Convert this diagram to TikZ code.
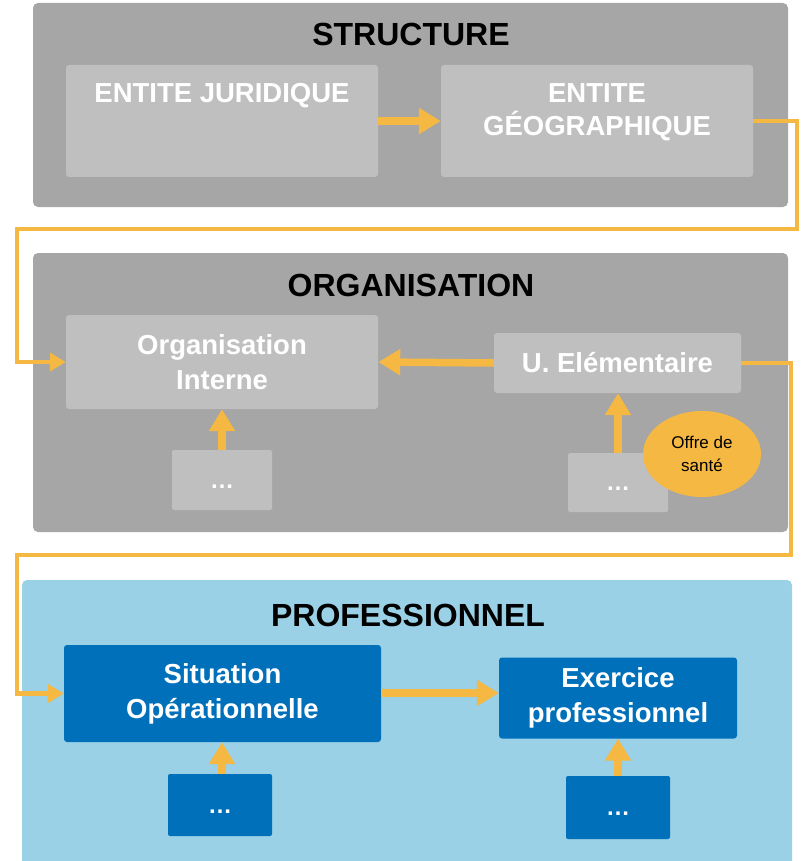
\documentclass[tikz,border=0pt]{standalone}
\usepackage{fontspec}
\setmainfont{Liberation Sans}
\usetikzlibrary{arrows.meta,shapes.geometric}
\definecolor{panelgrey}{HTML}{A6A6A6}
\definecolor{boxgrey}{HTML}{BFBFBF}
\definecolor{ayellow}{HTML}{F4B843}
\definecolor{lightblue}{HTML}{9AD1E6}
\definecolor{darkblue}{HTML}{0070BA}
\begin{document}
\begin{tikzpicture}[x=1pt,y=-1pt,
  panel/.style={fill=panelgrey,rounded corners=5pt},
  graybox/.style={rectangle,fill=boxgrey,rounded corners=3pt,inner sep=0pt,text=white,align=center,
    font=\fontsize{27.5}{35}\selectfont\bfseries},
  bluebox/.style={graybox,fill=darkblue},
  titletext/.style={font=\fontsize{32}{36}\selectfont\bfseries,text=black,inner sep=0pt},
  lbl/.style={text=white,align=center,font=\fontsize{27.5}{33}\selectfont\bfseries,inner sep=0pt},
  dots/.style={font=\fontsize{24}{28}\selectfont\bfseries,align=none,text height=0pt,text depth=0pt},
  fat/.style={draw=ayellow,line width=7.5pt,-{Triangle[width=25pt,length=22pt]}},
  conn/.style={draw=ayellow,line width=4.5pt,-{Triangle[width=18pt,length=16pt]}},
]
\useasboundingbox (0,0) rectangle (800,861);

% panels
\path[panel] (33,3) rectangle (788,207);
\path[panel] (33,253) rectangle (788,532);
\path[panel,fill=lightblue] (22,580) rectangle (792,868);

\node[titletext] (t1) at (411,34) {STRUCTURE};
\node[titletext] (t2) at (411,285) {ORGANISATION};
\node[titletext] (t3) at (408,615) {PROFESSIONNEL};

% STRUCTURE
\node[graybox,minimum width=312pt,minimum height=112pt] (ej) at (222,121) {};
\node[lbl] (ejt) at (222,96) {ENTITE JURIDIQUE};
\node[graybox,minimum width=312pt,minimum height=112pt] (geo) at (597,121) {};
\node[lbl] (geot) at (597,112) {ENTITE\\GÉOGRAPHIQUE};
\draw[fat] (ej.east) -- (geo.west);

% ORGANISATION
\node[graybox,minimum width=312pt,minimum height=94pt] (oi) at (222,362) {Organisation\\Interne};
\node[graybox,minimum width=247pt,minimum height=60pt] (ue) at (617.5,363) {U. Elémentaire};
\node[graybox,minimum width=100pt,minimum height=60pt,rounded corners=2pt,dots] (d1) at (222,480) {\raisebox{-8pt}{…}};
\node[graybox,minimum width=100pt,minimum height=59pt,rounded corners=2pt,dots] (d2) at (618,482.5) {\raisebox{-8pt}{…}};
\draw[fat] (ue.west) -- (oi.east);
\draw[fat] (d1.north) -- (oi.south);
\draw[fat] (d2.north) -- (d2.north |- ue.south);
\node[ellipse,fill=ayellow,minimum width=118pt,minimum height=86pt,inner sep=0pt,align=center,
  font=\fontsize{17}{23}\selectfont] (offre) at (702,454) {Offre de\\santé};

% PROFESSIONNEL
\node[bluebox,minimum width=317pt,minimum height=97pt] (so) at (222.5,693.5) {Situation\\Opérationnelle};
\node[bluebox,minimum width=238pt,minimum height=81pt] (ex) at (618,698) {Exercice\\professionnel};
\node[bluebox,minimum width=104pt,minimum height=62pt,rounded corners=2pt,dots] (d3) at (220,805) {\raisebox{-8pt}{…}};
\node[bluebox,minimum width=104pt,minimum height=63pt,rounded corners=2pt,dots] (d4) at (618,807.5) {\raisebox{-8pt}{…}};
\draw[fat] (so.east |- 0,693) -- (ex.west |- 0,693);
\draw[fat] (d3.north -| 222,0) -- (so.south -| 222,0);
\draw[fat] (d4.north) -- (ex.south);

% connectors
\coordinate (c1) at (797,229);
\coordinate (c2) at (17,362);
\coordinate (c3) at (791,555);
\coordinate (c4) at (17,693.5);
\draw[conn] (geo.east) -| (c1) -| (c2) -- (oi.west);
\draw[conn] (ue.east) -| (c3) -| (c4) -- (so.west);
\end{tikzpicture}
\end{document}
